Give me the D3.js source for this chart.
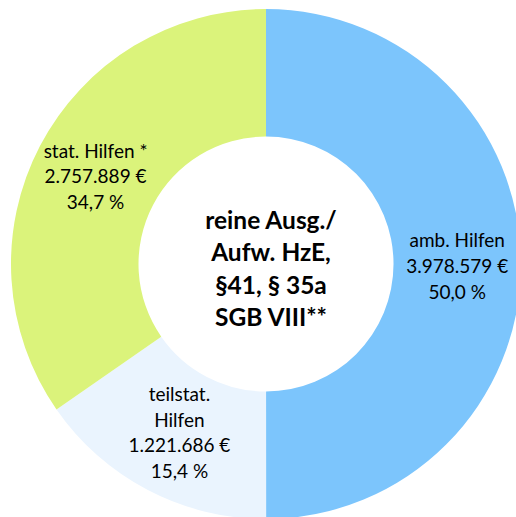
<!DOCTYPE html>
<html>
<head>
<meta charset="utf-8">
<script src="https://cdn.jsdelivr.net/npm/d3@7"></script>
<style>
  body { margin: 0; background: #fff; }
  svg { display: block; font-family: Lato, "Open Sans", sans-serif; }
</style>
</head>
<body>
<svg id="donut" width="516" height="517"></svg>
<script>
// Data
const categories = ["amb. Hilfen", "teilstat. Hilfen", "stat. Hilfen *"];
const amounts = [3978579, 1221686, 2757889];
const percents = [50.0, 15.4, 34.7];
const sliceColors = ["#7cc5fc", "#eaf4fe", "#dbf37b"];
// how each label is wrapped in the picture
const labelLines = [["amb. Hilfen"], ["teilstat.", "Hilfen"], ["stat. Hilfen *"]];
const centerTitle = ["reine Ausg./", "Aufw. HzE,", "§41, § 35a", "SGB VIII**"];

const width = 516, height = 517;
const cx = 266, cy = 264;
const outerR = 255, innerR = 127.5;

const svg = d3.select("#donut");
const g = svg.append("g").attr("transform", "translate(" + cx + "," + cy + ")");

const euro = n => d3.format(",")(n).replace(/,/g, ".") + " €";
const pct = p => d3.format(".1f")(p).replace(".", ",") + " %";

const pie = d3.pie().sort(null).value(d => d);
const arc = d3.arc().innerRadius(innerR).outerRadius(outerR);
const arcs = pie(amounts);

// slices
g.selectAll("path.slice")
  .data(arcs)
  .enter().append("path")
  .attr("class", "slice")
  .attr("fill", (d, i) => sliceColors[i])
  .attr("d", arc);

// labels sit around the ring centroid, nudged a little like in Excel
const labelShift = [[0, 0], [2, -3], [-1, -1]];
const lineH = 25.7;

arcs.forEach((d, i) => {
  const c = arc.centroid(d);
  const lines = labelLines[i].concat([euro(amounts[i]), pct(percents[i])]);
  const x = c[0] + labelShift[i][0];
  const y = c[1] + labelShift[i][1];
  const t = g.append("text")
    .attr("text-anchor", "middle")
    .attr("font-size", 19)
    .attr("fill", "#000");
  lines.forEach((ln, j) => {
    t.append("tspan")
      .attr("x", x)
      .attr("y", y + (j - (lines.length - 1) / 2) * lineH + 9)
      .text(ln);
  });
});

// center title
const ct = g.append("text")
  .attr("text-anchor", "middle")
  .attr("font-size", 24.5)
  .attr("font-weight", "bold")
  .attr("fill", "#000");
centerTitle.forEach((ln, j) => {
  ct.append("tspan")
    .attr("x", 5)
    .attr("y", -35 + j * 32.3)
    .text(ln);
});
</script>
</body>
</html>
